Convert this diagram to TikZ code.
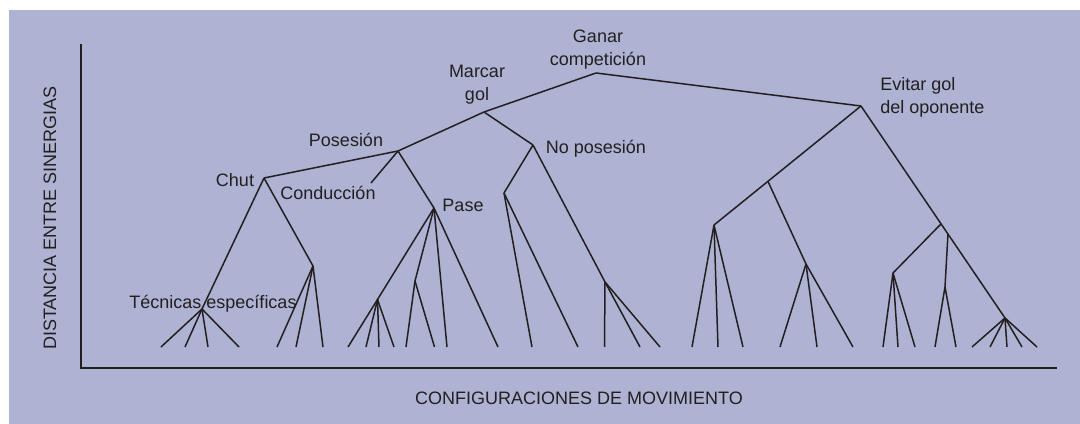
\documentclass[tikz,border=0pt]{standalone}
\usepackage{fontspec}
\setmainfont{Liberation Sans}
\usetikzlibrary{calc}
\definecolor{panel}{RGB}{174,179,211}
\definecolor{ink}{RGB}{35,31,32}
\begin{document}
\begin{tikzpicture}[x=0.6pt, y=-0.6pt, color=ink,
    twig/.style={line width=0.9pt},
    axis/.style={line width=1.15pt}]
            \tikzstyle{every node}=[font=\fontsize{10.8}{13.8}\selectfont, inner sep=0pt]

            \useasboundingbox (0,0) rectangle (1080,424);
            \fill[panel] (9,10) rectangle (1080,424);

              % axes
              \coordinate (top) at (81,44);
              \coordinate (origin) at (81,368);
              \coordinate (end) at (1057,368);
              \draw[axis] (top) -- (origin) -- (end);
              \node[rotate=90] (ylab) at (50,218) {DISTANCIA ENTRE SINERGIAS};
              \node (xlab) at (579,398) {CONFIGURACIONES DE MOVIMIENTO};

              % junctions
              \coordinate (1) at (596,73);
              \coordinate (2) at (861,106);
              \coordinate (3) at (484,112);
              \coordinate (4) at (398,151);
              \coordinate (5) at (533,145);
              \coordinate (6) at (264,178);
              \coordinate (7) at (371,183);
              \coordinate (8) at (434,208);
              \coordinate (9) at (202,309);
              \coordinate (10) at (313,266);
              \coordinate (11) at (377.5,299.5);
              \coordinate (12) at (415,281);
              \coordinate (13) at (504,193);
              \coordinate (14) at (605,282);
              \coordinate (15) at (714,225);
              \coordinate (16) at ($(2)!0.633!(15)$);
              \coordinate (17) at (806,264);
              \coordinate (18) at (1005,318);
              \coordinate (19) at ($(2)!0.556!(18)$);
              \coordinate (20) at (893,273);
              \coordinate (21) at ($(2)!0.604!(18)$);
              \coordinate (22) at (945,287);

              % leaves
              \coordinate (9a) at (161,347); \coordinate (9b) at (185,347);
              \coordinate (9c) at (208,347); \coordinate (9d) at (239,347);
              \coordinate (10a) at (277,347); \coordinate (10b) at (296,347);
              \coordinate (10c) at (323,347);
              \coordinate (11a) at (348,347); \coordinate (11b) at (366,347);
              \coordinate (11c) at (379,347); \coordinate (11d) at (394,347);
              \coordinate (12a) at (406,347); \coordinate (12b) at (434.5,347);
              \coordinate (8a) at (447,347); \coordinate (8b) at (498,347);
              \coordinate (13a) at (532,347); \coordinate (13b) at (578,347);
              \coordinate (14a) at (604.5,347); \coordinate (14b) at (640,347);
              \coordinate (14c) at (660,347);
              \coordinate (15a) at (692,347); \coordinate (15b) at (718,347);
              \coordinate (15c) at (743,347);
              \coordinate (17a) at (780,347); \coordinate (17b) at (817,347);
              \coordinate (17c) at (853,347);
              \coordinate (20a) at (883,347); \coordinate (20b) at (898,347);
              \coordinate (20c) at (915,347);
              \coordinate (22a) at (935,347); \coordinate (22b) at (956,347);
              \coordinate (18a) at (972,347); \coordinate (18b) at (990,347);
              \coordinate (18c) at (1007,347); \coordinate (18d) at (1022,347);
              \coordinate (18e) at (1037,347);

              % labels
              \node[align=center] (ganar) at (598,50) {Ganar\\competición};
              \node[align=center] (marcar) at (477,85) {Marcar\\gol};
              \node[align=left, anchor=west] (evitar) at (880,97) {Evitar gol\\del oponente};
              \node (pos) at (346,140) {Posesión};
              \node (nopos) at (596,149) {No posesión};
              \node (chut) at (235,180) {Chut};
              \node (cond) at (328,193) {Conducción};
              \node (pase) at (463,205) {Pase};
              \node (tec) at (213,304) {Técnicas específicas};

              \path[twig]
                (1) edge (2)
                    edge (3)
                (3) edge (4)
                    edge (5)
                (4) edge (6)
                    edge (7)
                    edge (8)
                (6) edge (9)
                    edge (10)
                (8) edge (11)
                    edge (12)
                    edge (8a)
                    edge (8b)
                (5) edge (13)
                    edge (14)
                (2) edge (15)
                    edge (18)
                (16) edge (17)
                (19) edge (20)
                (21) edge (22);

              \path[twig]
                (9) edge (9a) edge (9b) edge (9c) edge (9d)
                (10) edge (10a) edge (10b) edge (10c)
                (11) edge (11a) edge (11b) edge (11c) edge (11d)
                (12) edge (12a) edge (12b)
                (13) edge (13a) edge (13b)
                (14) edge (14a) edge (14b) edge (14c)
                (15) edge (15a) edge (15b) edge (15c)
                (17) edge (17a) edge (17b) edge (17c)
                (20) edge (20a) edge (20b) edge (20c)
                (22) edge (22a) edge (22b)
                (18) edge (18a) edge (18b) edge (18c) edge (18d) edge (18e);

            \end{tikzpicture}
\end{document}
